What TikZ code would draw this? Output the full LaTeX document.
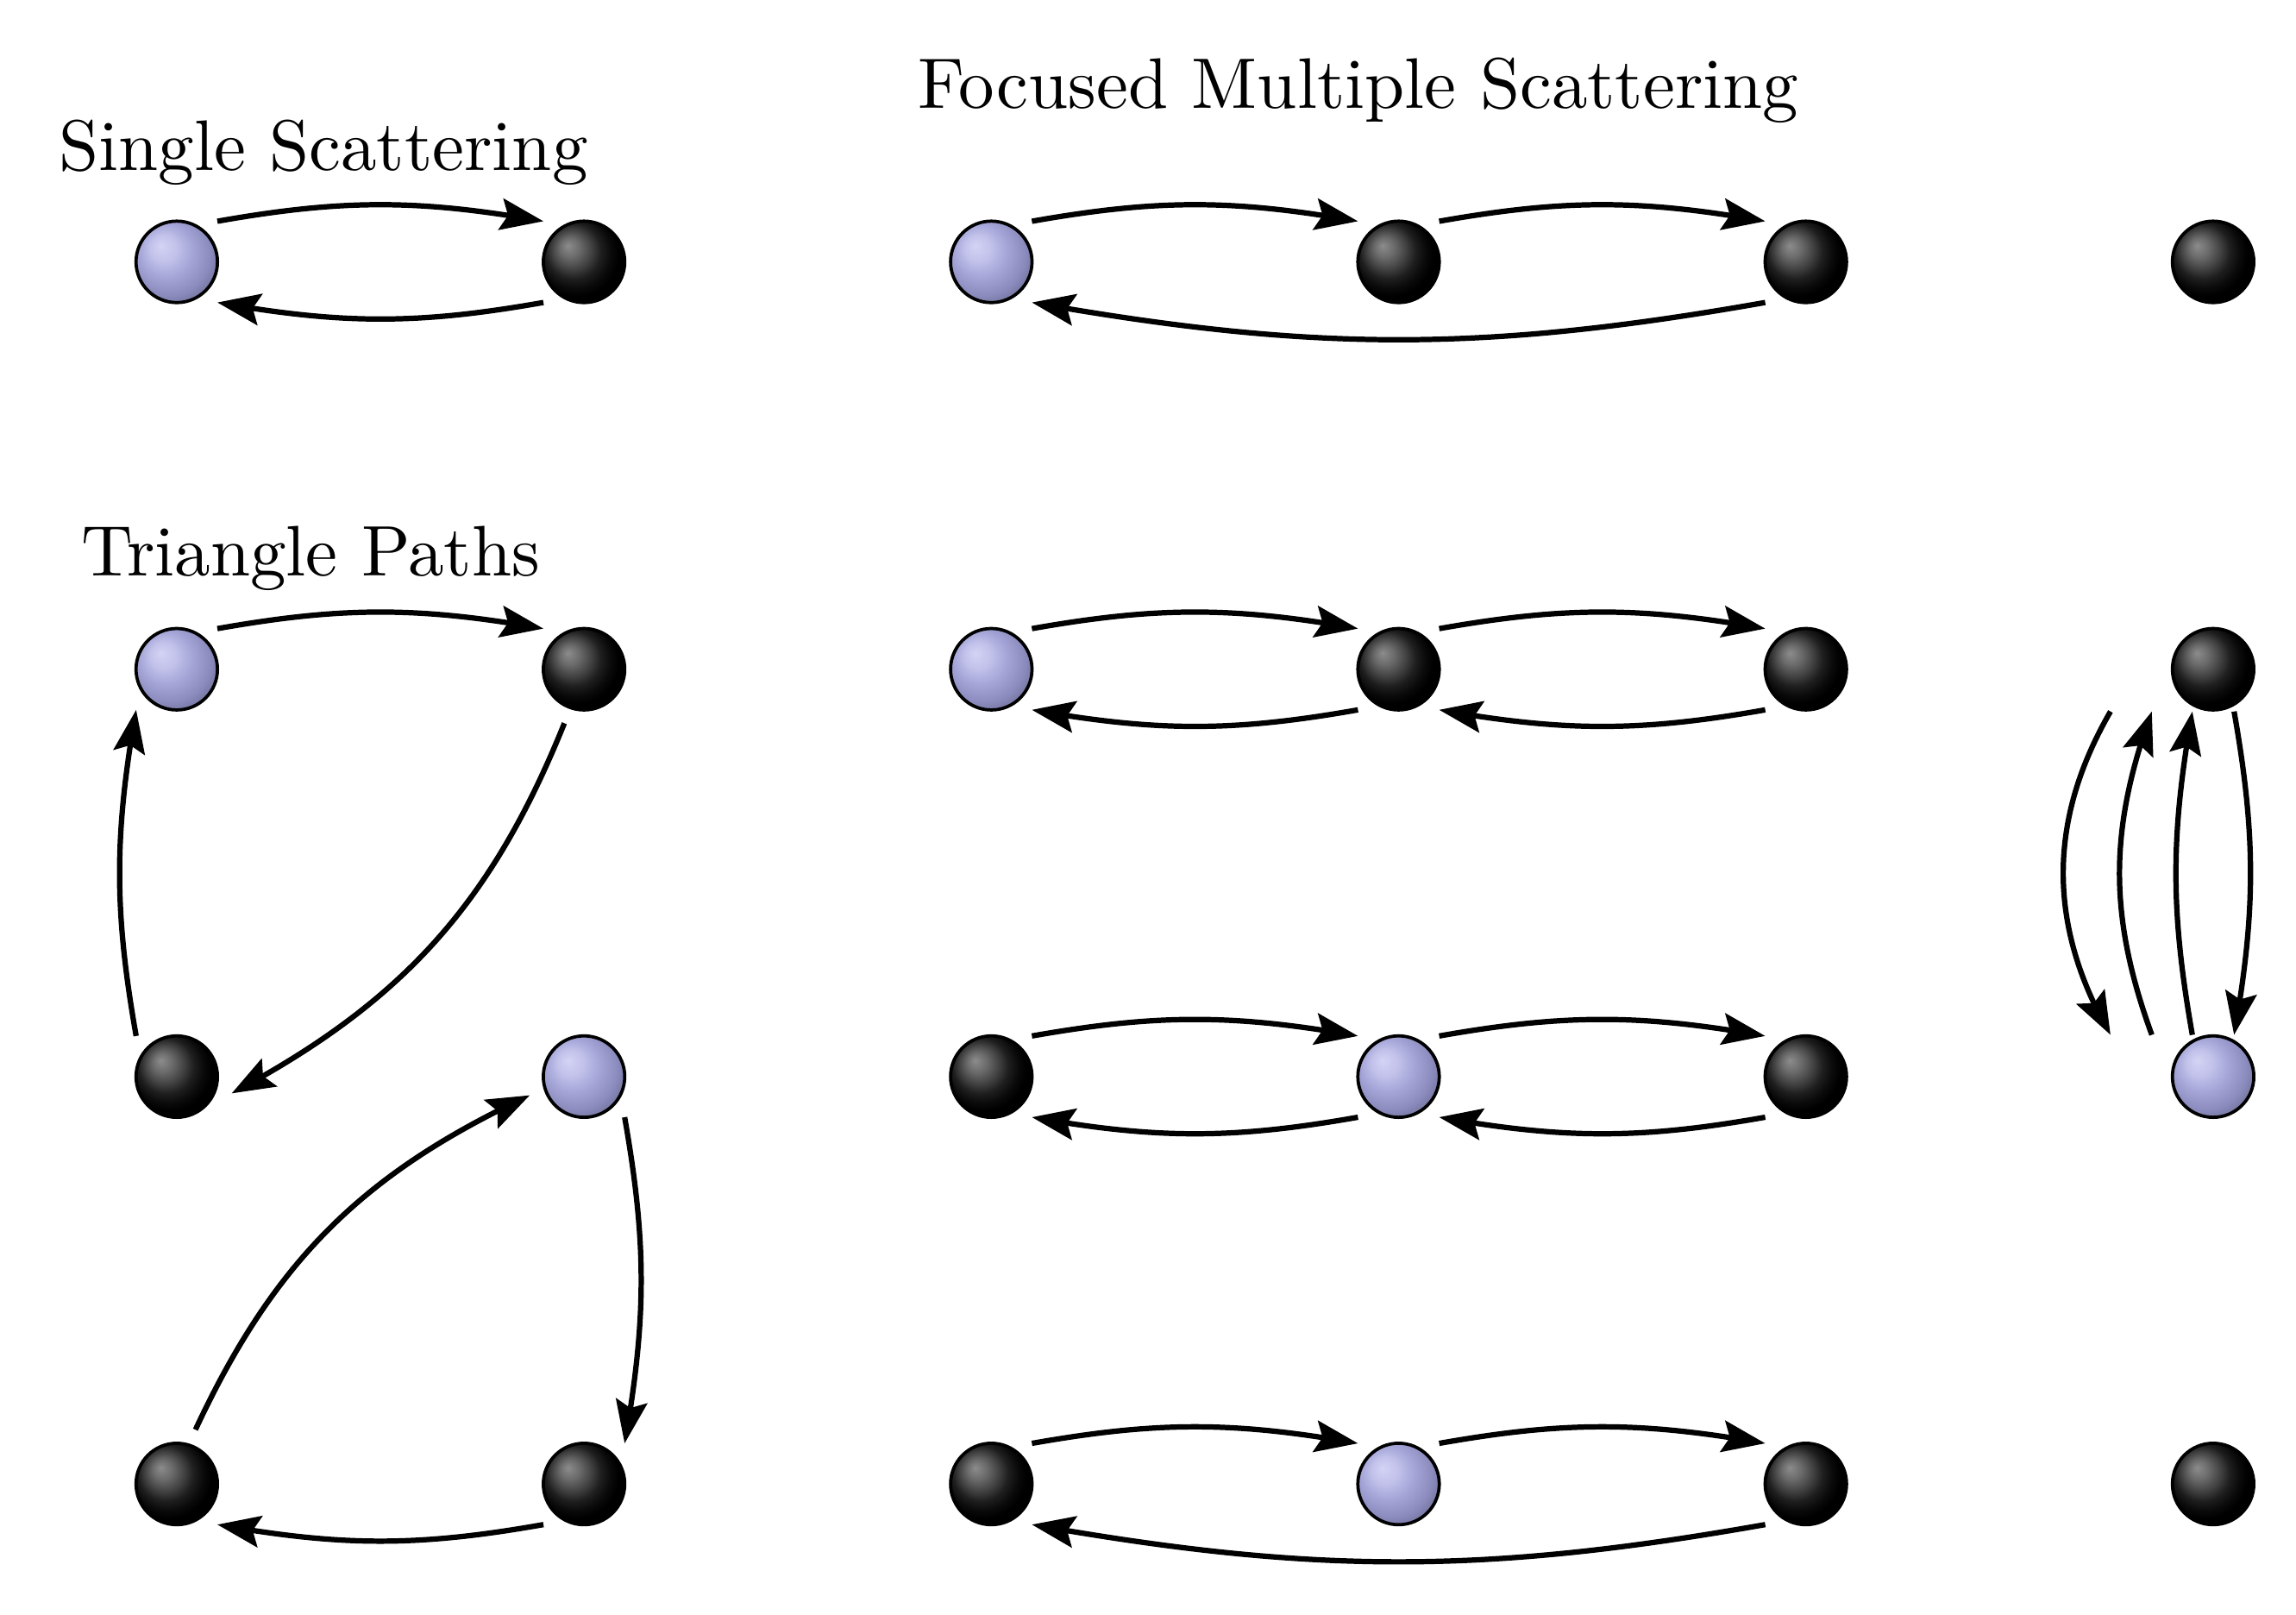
\documentclass[tikz,border=0pt]{standalone}
\usetikzlibrary{arrows.meta,bending,calc}
\pgfdeclareradialshading{blueball}{\pgfpoint{-10bp}{10bp}}{%
  rgb(0bp)=(0.83,0.83,0.96);
  rgb(8bp)=(0.76,0.76,0.92);
  rgb(16bp)=(0.65,0.65,0.85);
  rgb(25bp)=(0.55,0.55,0.75);
  rgb(33bp)=(0.43,0.43,0.59);
  rgb(50bp)=(0.40,0.40,0.55)}
\pgfdeclareradialshading{blackball}{\pgfpoint{-10bp}{10bp}}{%
  rgb(0bp)=(0.55,0.55,0.55);
  rgb(6bp)=(0.42,0.42,0.42);
  rgb(12bp)=(0.26,0.26,0.26);
  rgb(17bp)=(0.12,0.12,0.12);
  rgb(22bp)=(0.04,0.04,0.04);
  rgb(26bp)=(0,0,0);
  rgb(50bp)=(0,0,0)}
\tikzset{
  ballbase/.style={circle, draw=black, line width=0.45pt, minimum size=0.4cm,
                   inner sep=0pt, outer sep=0.082cm},
  bluenode/.style={ballbase, shading=blueball},
  blacknode/.style={ballbase, shading=blackball},
  arr/.style={line width=0.75pt, -{Stealth[length=6pt,width=4.4pt,inset=1pt]}},
  bl/.style={bend left=#1},
  br/.style={bend right=#1},
  titletext/.style={anchor=base, inner sep=0pt, font=\normalsize}
}
\begin{document}
\begin{tikzpicture}
\useasboundingbox (-0.868,1.2855) rectangle (10.407,-6.6395);

% titles
\node[titletext] (tss) at (0.72,0.451) {Single Scattering};
\node[titletext] (tfm) at (5.803,0.752) {Focused Multiple Scattering};
\node[titletext] (ttp) at (0.657,-1.540) {Triangle Paths};

% single scattering
\node[bluenode]  (s1) at (0,0) {};
\node[blacknode] (s2) at (2,0) {};
\draw[arr] (s1.45) to[bl=10] (s2.135);
\draw[arr] (s2.225) to[bl=10] (s1.315);

% focused multiple scattering, row 0
\node[bluenode]  (f1) at (4,0) {};
\node[blacknode] (f2) at (6,0) {};
\node[blacknode] (f3) at (8,0) {};
\node[blacknode] (g0) at (10,0) {};
\draw[arr] (f1.45) to[bl=10] (f2.135);
\draw[arr] (f2.45) to[bl=10] (f3.135);
\draw[arr] (f3.225) to[bl=10] (f1.315);

% triangle paths, upper
\node[bluenode]  (t1) at (0,-2) {};
\node[blacknode] (t2) at (2,-2) {};
\node[blacknode] (t3) at (0,-4) {};
\draw[arr] (t1.45) to[bl=10] (t2.135);
\draw[arr] (t2.250) to[bl=20] (t3.343);
\draw[arr] (t3.135) to[bl=10] (t1.225);

% triangle paths, lower
\node[bluenode]  (u1) at (2,-4) {};
\node[blacknode] (u2) at (0,-6) {};
\node[blacknode] (u3) at (2,-6) {};
\draw[arr] (u2.71) to[bl=20] (u1.199);
\draw[arr] (u1.315) to[bl=10] (u3.45);
\draw[arr] (u3.225) to[bl=10] (u2.315);

% middle row 1
\node[bluenode]  (m1) at (4,-2) {};
\node[blacknode] (m2) at (6,-2) {};
\node[blacknode] (m3) at (8,-2) {};
\draw[arr] (m1.45) to[bl=10] (m2.135);
\draw[arr] (m2.45) to[bl=10] (m3.135);
\draw[arr] (m3.225) to[bl=10] (m2.315);
\draw[arr] (m2.225) to[bl=10] (m1.315);

% middle row 2
\node[blacknode] (n1) at (4,-4) {};
\node[bluenode]  (n2) at (6,-4) {};
\node[blacknode] (n3) at (8,-4) {};
\draw[arr] (n1.45) to[bl=10] (n2.135);
\draw[arr] (n2.45) to[bl=10] (n3.135);
\draw[arr] (n3.225) to[bl=10] (n2.315);
\draw[arr] (n2.225) to[bl=10] (n1.315);

% middle row 3
\node[blacknode] (r1) at (4,-6) {};
\node[bluenode]  (r2) at (6,-6) {};
\node[blacknode] (r3) at (8,-6) {};
\draw[arr] (r1.45) to[bl=10] (r2.135);
\draw[arr] (r2.45) to[bl=10] (r3.135);
\draw[arr] (r3.225) to[bl=10] (r1.315);

% right column
\node[blacknode] (g1) at (10,-2) {};
\node[bluenode]  (g2) at (10,-4) {};
\node[blacknode] (g3) at (10,-6) {};
\coordinate (a1s) at ($(g1)+(-0.504,-0.2075)$);
\coordinate (a1e) at ($(g2)+(-0.504,0.205)$);
\coordinate (a2s) at ($(g2)+(-0.301,0.205)$);
\coordinate (a2e) at ($(g1)+(-0.301,-0.2075)$);
\coordinate (a3s) at ($(g2)+(-0.102,0.205)$);
\coordinate (a3e) at ($(g1)+(-0.102,-0.2075)$);
\coordinate (a4s) at ($(g1)+(0.103,-0.2075)$);
\coordinate (a4e) at ($(g2)+(0.103,0.205)$);
\draw[arr] (a1s) to[br=30] (a1e);
\draw[arr] (a2s) to[bl=20] (a2e);
\draw[arr] (a3s) to[bl=10] (a3e);
\draw[arr] (a4s) to[bl=10] (a4e);
\end{tikzpicture}
\end{document}
